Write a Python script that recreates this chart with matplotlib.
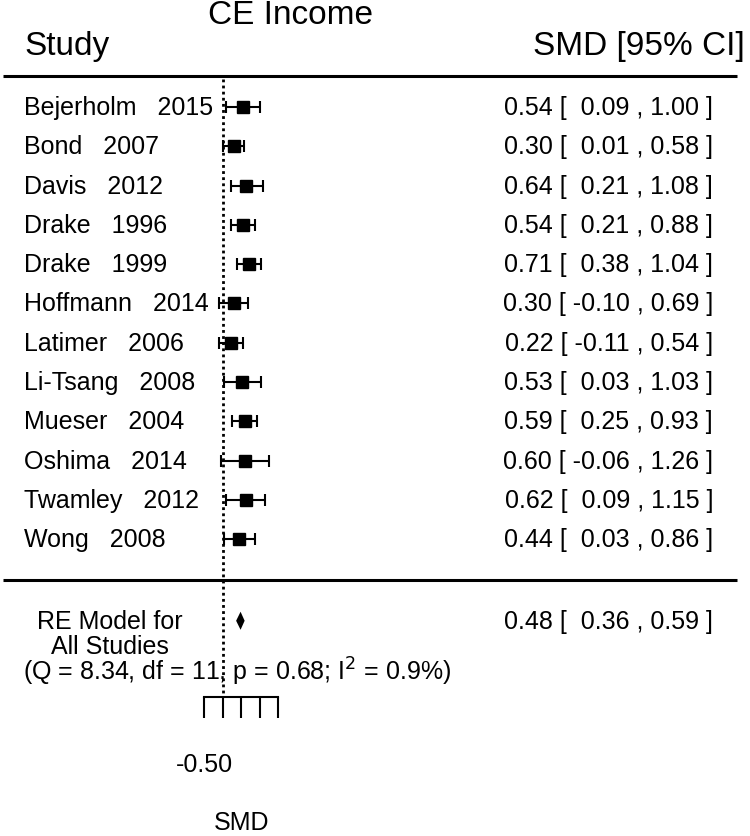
import matplotlib.pyplot as plt
import numpy as np

plt.rcParams['font.family'] = ['Liberation Sans', 'DejaVu Sans']

# study data (SMD with 95% CI)
studies = ['Bejerholm   2015', 'Bond   2007', 'Davis   2012', 'Drake   1996',
           'Drake   1999', 'Hoffmann   2014', 'Latimer   2006', 'Li-Tsang   2008',
           'Mueser   2004', 'Oshima   2014', 'Twamley   2012', 'Wong   2008']
smd = [0.54, 0.30, 0.64, 0.54, 0.71, 0.30, 0.22, 0.53, 0.59, 0.60, 0.62, 0.44]
ci_low = [0.09, 0.01, 0.21, 0.21, 0.38, -0.10, -0.11, 0.03, 0.25, -0.06, 0.09, 0.03]
ci_high = [1.00, 0.58, 1.08, 0.88, 1.04, 0.69, 0.54, 1.03, 0.93, 1.26, 1.15, 0.86]

# random-effects summary
re_est, re_low, re_high = 0.48, 0.36, 0.59
q_stat, q_df, q_p, i2 = 8.34, 11, 0.68, 0.9

axis_ticks = [-0.5, 0, 0.5, 1.0, 1.5]
axis_labels = ['-0.50', '', '', '', '']

fs = 18
fs_head = 24

fig = plt.figure(figsize=(7.5, 8.37), dpi=100)
ax = fig.add_axes([0, 0, 1, 1])
ax.set_xlim(-6.022, 14.249)
ax.set_ylim(18.56, -2.75)

rows = np.arange(len(studies))

# reference line at zero
ax.vlines(0, -0.71, 15.03, color='black', lw=2.0, linestyles=(0, (1, 1.2)))

# study estimates
ax.errorbar(smd, rows, xerr=[np.subtract(smd, ci_low), np.subtract(ci_high, smd)],
            fmt='s', color='black', ms=8, elinewidth=1.5, capsize=4.5, capthick=1.5)

for i, name in enumerate(studies):
    ax.text(-5.373, rows[i], name, fontsize=fs, ha='left', va='center')
    ax.text(13.25, rows[i], f'{smd[i]:.2f} [ {ci_low[i]: .2f} , {ci_high[i]:.2f} ]',
            fontsize=fs, ha='right', va='center')

# summary diamond
re_y = 13.08
ax.fill([re_low, re_est, re_high, re_est], [re_y, re_y - 0.23, re_y, re_y + 0.23],
        color='black', lw=0)
ax.text(13.25, re_y, f'{re_est:.2f} [ {re_low: .2f} , {re_high:.2f} ]',
        fontsize=fs, ha='right', va='center')
ax.text(-3.05, 13.4, 'RE Model for\nAll Studies', fontsize=fs, ha='center',
        va='center', multialignment='center', linespacing=1.05)
ax.text(-5.4, 14.36, f'(Q = {q_stat:.2f}, df = {q_df}, p = {q_p:.2f}; I$^2$ = {i2}%)',
        fontsize=fs, ha='left', va='center')

# headers and separators
ax.text(1.843, -2.36, 'CE Income', fontsize=fs_head, ha='center', va='center')
ax.text(-5.373, -1.566, 'Study', fontsize=fs_head, ha='left', va='center')
ax.text(14.116, -1.566, 'SMD [95% CI]', fontsize=fs_head, ha='right', va='center')
ax.hlines([-0.789, 12.045], -5.94, 13.9, color='black', lw=2.2)

# SMD axis
for s in ['top', 'left', 'right']:
    ax.spines[s].set_visible(False)
ax.spines['bottom'].set_position(('data', 15.03))
ax.spines['bottom'].set_bounds(-0.5, 1.5)
ax.spines['bottom'].set_linewidth(1.5)
ax.set_xticks(axis_ticks)
ax.set_xticklabels(axis_labels, fontsize=fs)
ax.tick_params(axis='x', length=15, width=1.5, pad=24)
ax.set_yticks([])
ax.text(0.5, 18.21, 'SMD', fontsize=fs, ha='center', va='center')

fig.savefig('out.png', dpi=100)
